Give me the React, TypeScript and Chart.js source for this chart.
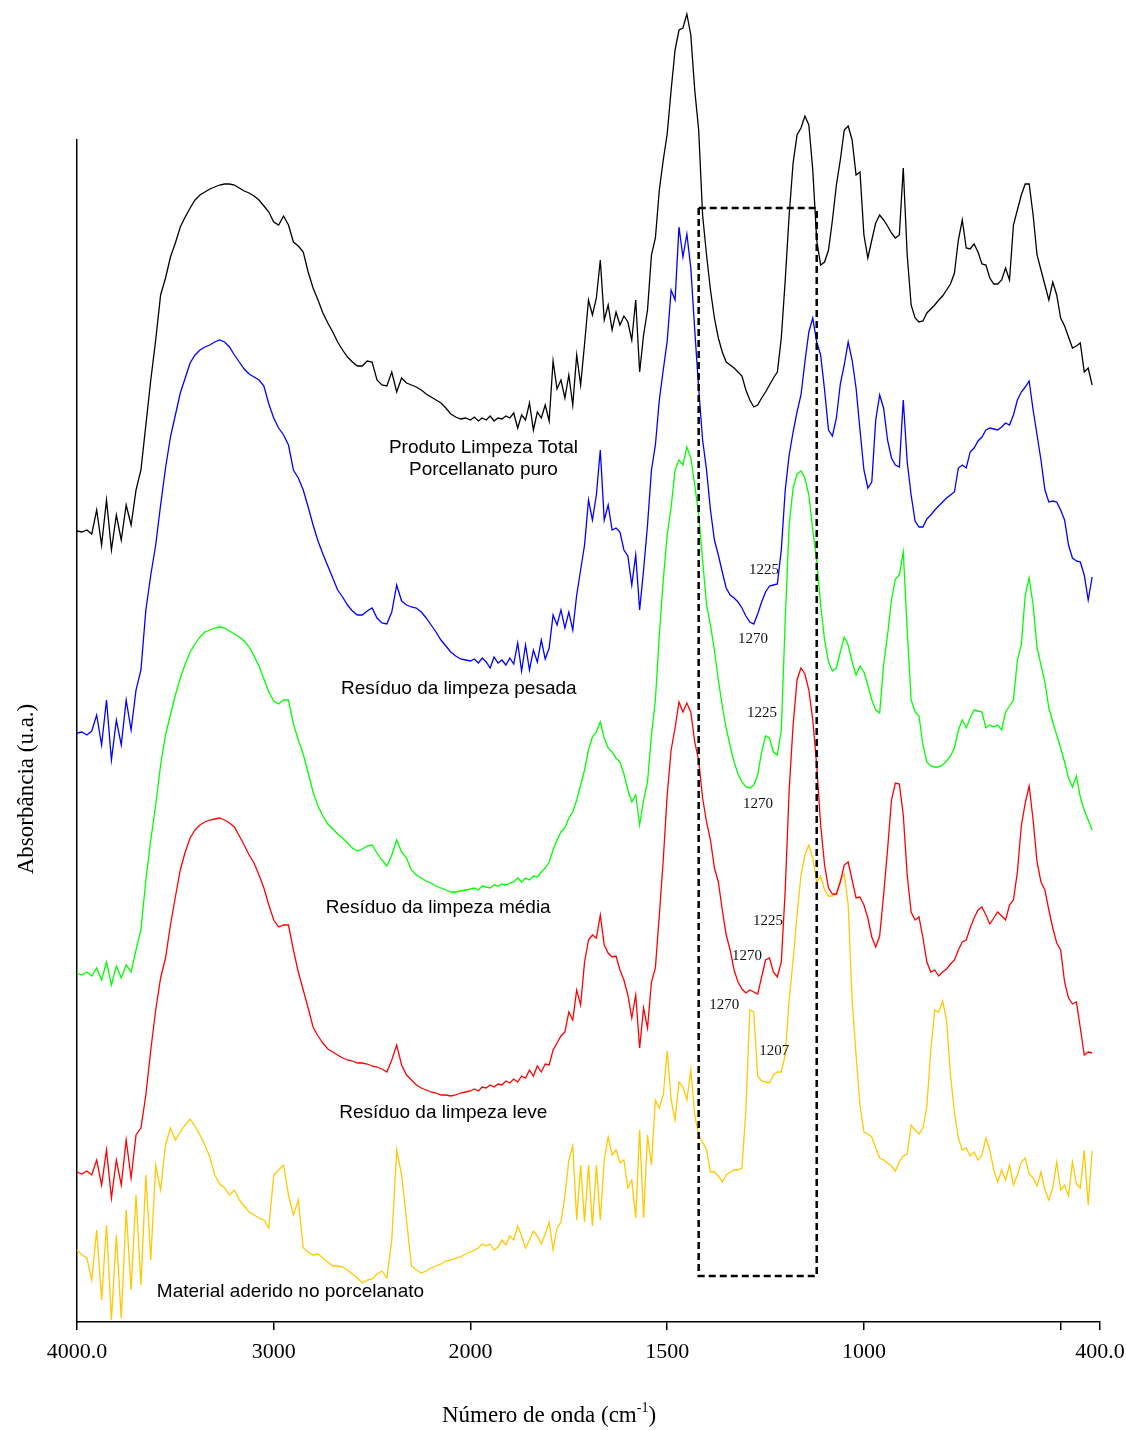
import React, { useEffect, useRef } from 'react';
import { Chart, LinearScale, registerables } from 'chart.js';

Chart.register(...registerables);

// ---------- axis helpers: the instrument scale is compressed 2x above 2000 cm-1 ----------
const splitT = (wn: number) => (wn > 2000 ? 2000 + (wn - 2000) / 2 : wn);
const splitInv = (t: number) => (t > 2000 ? 2000 + (t - 2000) * 2 : t);

class SplitWavenumberScale extends LinearScale {
  static id = 'splitWavenumber';
  static defaults = LinearScale.defaults;
  getPixelForValue(value: number) {
    const a = splitT(this.min as number);
    const b = splitT(this.max as number);
    return this.getPixelForDecimal((splitT(value) - a) / (b - a));
  }
  getValueForPixel(pixel: number) {
    const a = splitT(this.min as number);
    const b = splitT(this.max as number);
    return splitInv(a + this.getDecimalForPixel(pixel) * (b - a));
  }
}
Chart.register(SplitWavenumberScale as any);

// ---------- data ----------
const wavenumbersHigh = [
  4000, 3975, 3950, 3925, 3900, 3875, 3850, 3825, 3800, 3775, 3750, 3725, 3700, 3675, 3650, 3625, 3600, 3575, 3550, 3525,
  3500, 3475, 3450, 3425, 3400, 3375, 3350, 3325, 3300, 3275, 3250, 3225, 3200, 3175, 3150, 3125, 3100, 3075, 3050, 3025,
  3000, 2975, 2950, 2925, 2900, 2875, 2850, 2825, 2800, 2775, 2750, 2725, 2700, 2675, 2650, 2625, 2600, 2575, 2550, 2525,
  2500, 2475, 2450, 2425, 2400, 2375, 2350, 2325, 2300, 2275, 2250, 2225, 2200, 2175, 2150, 2125, 2100, 2075, 2050, 2025,
  2000,
];
const wavenumbersLow = [
  1990, 1980, 1970, 1960, 1950, 1940, 1930, 1920, 1910,
  1900, 1890, 1880, 1870, 1860, 1850, 1840, 1830, 1820, 1810,
  1800, 1790, 1780, 1770, 1760, 1750, 1740, 1730, 1720, 1710,
  1700, 1690, 1680, 1670, 1660, 1650, 1640, 1630, 1620, 1610,
  1600, 1590, 1580, 1570, 1560, 1550, 1540, 1530, 1520, 1510,
  1500, 1490, 1480, 1470, 1460, 1450, 1440, 1430, 1420, 1410,
  1400, 1390, 1380, 1370, 1360, 1350, 1340, 1330, 1320, 1310,
  1300, 1290, 1280, 1270, 1260, 1250, 1240, 1230, 1220, 1210,
  1200, 1190, 1180, 1170, 1160, 1150, 1140, 1130, 1120, 1110,
  1100, 1090, 1080, 1070, 1060, 1050, 1040, 1030, 1020, 1010,
  1000, 990, 980, 970, 960, 950, 940, 930, 920, 910,
  900, 890, 880, 870, 860, 850, 840, 830, 820, 810,
  800, 790, 780, 770, 760, 750, 740, 730, 720, 710,
  700, 690, 680, 670, 660, 650, 640, 630, 620, 610,
  600, 590, 580, 570, 560, 550, 540, 530, 520, 510,
  500, 490, 480, 470, 460, 450, 440, 430, 420,
];
const wavenumbers = [...wavenumbersHigh, ...wavenumbersLow];

// Produto Limpeza Total Porcellanato puro (black)
const produtoLimpeza = [
  791, 790, 792, 788, 812, 777, 822, 772, 807, 782, 817, 797, 832, 852, 897, 942, 982, 1027, 1044, 1065,
  1079, 1095, 1105, 1114, 1122, 1127, 1130, 1133, 1135, 1137, 1138, 1138, 1137, 1134, 1131, 1129, 1126, 1122, 1116, 1110,
  1100, 1097, 1106, 1097, 1080, 1076, 1070, 1050, 1034, 1022, 1009, 999, 990, 980, 972, 965, 960, 956, 956, 961,
  960, 942, 937, 936, 950, 930, 944, 939, 937, 935, 932, 928, 925, 922, 919, 914, 908, 905, 903, 904, 902,
  905, 901, 904, 902, 906, 901, 904, 903, 906,
  904, 909, 894, 907, 902, 919, 892, 910, 904, 917,
  901, 961, 933, 942, 924, 947, 917, 967, 937, 978,
  1022, 1007, 1024, 1062, 1002, 1017, 992, 1010, 997, 1006,
  1000, 982, 1022, 950, 987, 1012, 1067, 1084, 1132, 1162,
  1188, 1232, 1272, 1292, 1294, 1308, 1287, 1232, 1192, 1107,
  1067, 1032, 1004, 984, 970, 960, 957, 954, 950, 946,
  932, 922, 915, 917, 924, 930, 937, 944, 950, 984,
  1042, 1107, 1159, 1187, 1194, 1206, 1197, 1152, 1082, 1057,
  1060, 1072, 1102, 1137, 1162, 1192, 1196, 1182, 1147, 1150,
  1087, 1064, 1082, 1099, 1107, 1102, 1096, 1089, 1084, 1087,
  1154, 1067, 1017, 1004, 1000, 1001, 1009, 1013, 1017, 1022,
  1026, 1032, 1038, 1049, 1082, 1102, 1074, 1073, 1078, 1070,
  1058, 1057, 1044, 1038, 1038, 1042, 1054, 1042, 1097, 1112,
  1127, 1138, 1138, 1107, 1067, 1052, 1037, 1022, 1040, 1027,
  1004, 996, 985, 974, 976, 979, 950, 954, 937,
];

// Resíduo da limpeza pesada (blue)
const residuoPesada = [
  589, 590, 587, 591, 607, 577, 622, 562, 602, 577, 622, 592, 632, 652, 712, 747, 777, 817, 854, 885,
  907, 929, 944, 959, 967, 972, 975, 977, 980, 982, 980, 975, 967, 960, 953, 948, 945, 942, 936, 918,
  904, 894, 887, 877, 852, 844, 832, 815, 797, 781, 768, 756, 744, 732, 725, 717, 711, 707, 707, 711,
  714, 704, 699, 698, 710, 737, 721, 717, 715, 714, 710, 704, 697, 690, 682, 676, 670, 666, 663, 662, 661,
  663, 659, 664, 660, 654, 665, 659, 662, 657,
  664, 658, 679, 651, 677, 652, 672, 660, 682, 663,
  674, 707, 697, 712, 694, 710, 692, 727, 752, 777,
  822, 802, 827, 872, 802, 817, 792, 794, 790, 772,
  766, 737, 767, 712, 752, 797, 852, 877, 922, 952,
  981, 1032, 1022, 1095, 1065, 1088, 1054, 992, 934, 882,
  852, 812, 782, 767, 750, 734, 727, 724, 720, 714,
  706, 700, 698, 708, 720, 730, 736, 737, 738, 772,
  832, 867, 890, 910, 927, 960, 990, 1004, 980, 967,
  932, 892, 886, 904, 938, 957, 980, 962, 934, 892,
  852, 834, 840, 902, 927, 914, 882, 864, 857, 855,
  922, 860, 827, 801, 795, 795, 803, 807, 812, 816,
  820, 824, 827, 830, 854, 857, 854, 870, 874, 881,
  885, 892, 894, 893, 892, 895, 899, 897, 907, 922,
  930, 935, 941, 912, 887, 862, 832, 820, 821, 820,
  812, 802, 777, 764, 761, 760, 747, 722, 745,
];

// Resíduo da limpeza média (green)
const residuoMedia = [
  349, 347, 350, 346, 354, 342, 360, 337, 356, 344, 357, 350, 372, 392, 442, 482, 517, 557, 587, 607,
  627, 644, 658, 670, 678, 685, 690, 692, 694, 695, 694, 691, 688, 685, 681, 675, 666, 656, 643, 630,
  621, 618, 622, 622, 598, 582, 568, 549, 530, 516, 506, 498, 493, 488, 484, 479, 474, 471, 473, 476,
  477, 469, 462, 456, 467, 482, 470, 464, 452, 447, 444, 441, 439, 436, 434, 432, 430, 430, 431, 432, 433,
  434, 432, 436, 435, 434, 437, 436, 438, 437,
  439, 440, 444, 440, 444, 442, 446, 445, 450, 454,
  460, 472, 482, 490, 494, 504, 510, 522, 537, 552,
  572, 585, 590, 600, 584, 574, 570, 564, 560, 548,
  532, 520, 527, 497, 522, 540, 587, 622, 687, 742,
  787, 815, 852, 862, 857, 875, 864, 837, 807, 762,
  717, 697, 672, 642, 616, 594, 576, 560, 548, 540,
  535, 534, 537, 547, 570, 586, 584, 570, 567, 592,
  702, 797, 834, 848, 851, 844, 827, 792, 762, 717,
  682, 660, 651, 654, 670, 685, 677, 660, 647, 656,
  650, 637, 622, 612, 609, 657, 687, 722, 743, 747,
  770, 692, 622, 610, 606, 577, 560, 556, 555, 555,
  557, 561, 566, 574, 592, 602, 594, 604, 612, 611,
  610, 594, 597, 595, 597, 592, 610, 616, 622, 662,
  677, 727, 744, 717, 674, 657, 640, 614, 600, 587,
  574, 560, 544, 535, 546, 525, 512, 502, 492,
];

// Resíduo da limpeza leve (red)
const residuoLeve = [
  150, 148, 151, 147, 162, 137, 172, 124, 162, 137, 182, 144, 187, 194, 227, 272, 312, 344, 364, 397,
  425, 452, 470, 484, 492, 497, 500, 502, 503, 504, 502, 499, 495, 486, 477, 467, 459, 447, 434, 417,
  402, 395, 397, 397, 372, 350, 332, 314, 295, 286, 279, 273, 270, 267, 264, 262, 261, 259, 259, 258,
  256, 255, 253, 250, 262, 277, 257, 247, 242, 237, 234, 232, 230, 229, 227, 227, 226, 227, 229, 230, 231,
  233, 231, 235, 234, 237, 235, 238, 237, 241,
  239, 243, 240, 246, 244, 252, 246, 256, 250, 258,
  257, 272, 279, 286, 290, 310, 302, 332, 317, 360,
  382, 387, 384, 407, 377, 369, 365, 366, 352, 342,
  327, 304, 327, 274, 314, 294, 340, 354, 407, 462,
  527, 572, 594, 620, 610, 619, 610, 580, 562, 524,
  500, 482, 454, 440, 412, 387, 372, 352, 340, 333,
  329, 332, 330, 328, 345, 362, 364, 350, 345, 360,
  432, 532, 597, 642, 654, 648, 632, 602, 557, 497,
  457, 434, 428, 428, 440, 457, 460, 442, 424, 425,
  417, 404, 385, 375, 386, 427, 472, 522, 539, 538,
  507, 447, 410, 402, 405, 384, 360, 350, 352, 346,
  350, 353, 358, 362, 372, 380, 382, 394, 404, 412,
  415, 407, 398, 404, 410, 406, 402, 417, 422, 450,
  496, 519, 536, 502, 460, 440, 432, 412, 394, 379,
  372, 340, 324, 318, 320, 294, 267, 270, 269,
];

// Material aderido no porcelanato (yellow)
const materialAderido = [
  72, 67, 64, 42, 92, 22, 97, 2, 87, 4, 112, 32, 127, 37, 147, 62, 157, 132, 177, 194,
  182, 190, 197, 203, 196, 187, 177, 165, 147, 138, 134, 127, 132, 122, 116, 110, 107, 104, 102, 94,
  147, 152, 157, 127, 107, 122, 74, 70, 67, 68, 64, 60, 56, 56, 55, 52, 48, 44, 39, 42,
  43, 48, 51, 44, 82, 172, 147, 102, 56, 52, 49, 51, 54, 56, 58, 61, 62, 64, 65, 68, 70,
  72, 74, 78, 76, 78, 72, 75, 82, 77,
  86, 82, 96, 86, 74, 82, 91, 86, 78, 88,
  100, 72, 94, 100, 126, 162, 176, 102, 157, 100,
  157, 96, 157, 102, 162, 185, 167, 172, 159, 162,
  134, 142, 104, 192, 104, 187, 157, 222, 214, 227,
  271, 222, 202, 240, 235, 222, 252, 207, 187, 180,
  172, 150, 150, 146, 140, 147, 150, 152, 152, 154,
  212, 312, 310, 246, 241, 240, 239, 247, 250, 250,
  267, 322, 362, 407, 447, 467, 477, 464, 440, 446,
  432, 426, 426, 428, 442, 448, 417, 322, 267, 217,
  190, 188, 185, 174, 164, 162, 159, 156, 151, 160,
  166, 168, 197, 192, 188, 194, 216, 272, 312, 310,
  321, 302, 247, 210, 184, 172, 174, 166, 170, 162,
  167, 184, 172, 152, 140, 152, 142, 157, 137, 147,
  160, 164, 148, 144, 136, 150, 132, 122, 134, 160,
  132, 137, 126, 160, 138, 134, 172, 117, 171,
];

const seriesNames = [
  'Produto Limpeza Total Porcellanato puro',
  'Resíduo da limpeza pesada',
  'Resíduo da limpeza média',
  'Resíduo da limpeza leve',
  'Material aderido no porcelanato',
];
const seriesColors = ['#000000', '#0000FF', '#00FF00', '#FF0000', '#FFC800'];
const seriesValues = [produtoLimpeza, residuoPesada, residuoMedia, residuoLeve, materialAderido];

const tickValues = [4000, 3000, 2000, 1500, 1000, 500, 400];
const tickLabels = ['4000.0', '3000', '2000', '1500', '1000', '', '400.0'];

// in-plot text: text, wavenumber, absorbance
const spectrumLabelTexts = [
  'Produto Limpeza Total',
  'Porcellanato puro',
  'Resíduo da limpeza pesada',
  'Resíduo da limpeza média',
  'Resíduo da limpeza leve',
  'Material aderido no porcelanato',
];
const spectrumLabelWn = [1967, 1967, 2059, 2164, 2138, 2915];
const spectrumLabelAbs = [869, 847, 628, 409, 204, 25];

const peakTexts = ['1225', '1270', '1225', '1270', '1225', '1270', '1270', '1207'];
const peakWn = [1254, 1282, 1259, 1269, 1244, 1297, 1355, 1228];
const peakAbs = [752, 683, 609, 518, 401, 366, 317, 271];

const boxWavenumbers = [1420, 1120];
const boxAbsorbance = [46, 1114];

const overlayPlugin = {
  id: 'overlay',
  afterDraw(chart: any) {
    const { ctx, chartArea } = chart;
    const xs = chart.scales.x;
    const ys = chart.scales.y;
    ctx.save();

    // dashed box
    const bl = xs.getPixelForValue(boxWavenumbers[0]);
    const br = xs.getPixelForValue(boxWavenumbers[1]);
    const bt = ys.getPixelForValue(boxAbsorbance[1]);
    const bb = ys.getPixelForValue(boxAbsorbance[0]);
    ctx.strokeStyle = '#000';
    ctx.lineWidth = 2.5;
    ctx.setLineDash([7, 4]);
    ctx.strokeRect(bl, bt, br - bl, bb - bt);
    ctx.setLineDash([]);

    // spectrum labels
    ctx.fillStyle = '#000';
    ctx.font = '19px "Liberation Sans", Arial, sans-serif';
    ctx.textAlign = 'center';
    ctx.textBaseline = 'alphabetic';
    spectrumLabelTexts.forEach((t, i) => {
      ctx.fillText(t, xs.getPixelForValue(spectrumLabelWn[i]), ys.getPixelForValue(spectrumLabelAbs[i]));
    });

    // peak labels
    ctx.fillStyle = '#111';
    ctx.font = '15px "Liberation Serif", "Times New Roman", serif';
    ctx.textBaseline = 'middle';
    peakTexts.forEach((t, i) => {
      ctx.fillText(t, xs.getPixelForValue(peakWn[i]), ys.getPixelForValue(peakAbs[i]));
    });

    // x title with superscript
    ctx.fillStyle = '#000';
    ctx.textAlign = 'left';
    ctx.textBaseline = 'alphabetic';
    const mainFont = '23px "Liberation Serif", "Times New Roman", serif';
    const supFont = '14px "Liberation Serif", "Times New Roman", serif';
    ctx.font = mainFont;
    const p1 = 'Número de onda (cm';
    const w1 = ctx.measureText(p1).width;
    const w3 = ctx.measureText(')').width;
    ctx.font = supFont;
    const w2 = ctx.measureText('-1').width;
    const total = w1 + w2 + w3;
    const cx = chartArea.left + 472;
    const base = chartArea.bottom + 100;
    const x0 = cx - total / 2;
    ctx.font = mainFont;
    ctx.fillText(p1, x0, base);
    ctx.font = supFont;
    ctx.fillText('-1', x0 + w1, base - 10);
    ctx.font = mainFont;
    ctx.fillText(')', x0 + w1 + w2, base);

    // y title
    ctx.translate(chartArea.left - 44, chartArea.top + 649);
    ctx.rotate(-Math.PI / 2);
    ctx.textAlign = 'center';
    ctx.font = mainFont;
    ctx.fillText('Absorbância (u.a.)', 0, 0);

    ctx.restore();
  },
};

export default function App() {
  const canvasRef = useRef<HTMLCanvasElement | null>(null);

  useEffect(() => {
    if (!canvasRef.current) return;
    const datasets = seriesValues.map((vals, si) => ({
      label: seriesNames[si],
      data: wavenumbers.map((wn, i) => ({ x: wn, y: vals[i] })),
      borderColor: seriesColors[si],
      backgroundColor: seriesColors[si],
      borderWidth: 1.3,
      pointRadius: 0,
      tension: 0,
      fill: false,
      clip: false as any,
    }));

    const chart = new Chart(canvasRef.current, {
      type: 'line',
      data: { datasets },
      plugins: [overlayPlugin],
      options: {
        animation: false,
        responsive: true,
        maintainAspectRatio: false,
        layout: { padding: { left: 77, right: 26, top: 140, bottom: 0 } },
        plugins: { legend: { display: false }, tooltip: { enabled: false } },
        scales: {
          x: {
            type: 'splitWavenumber' as any,
            reverse: true,
            min: 400,
            max: 4000,
            afterBuildTicks: (scale: any) => {
              scale.ticks = tickValues.map((v) => ({ value: v }));
            },
            afterFit: (scale: any) => {
              scale.height = 108;
              scale.paddingLeft = 0;
              scale.paddingRight = 0;
            },
            ticks: {
              autoSkip: false,
              maxRotation: 0,
              minRotation: 0,
              padding: 9,
              color: '#000',
              font: { family: '"Liberation Serif", "Times New Roman", serif', size: 22 },
              callback: (v: any) => {
                const idx = tickValues.indexOf(Number(v));
                return idx >= 0 ? tickLabels[idx] : '';
              },
            },
            grid: {
              display: true,
              drawOnChartArea: false,
              drawTicks: true,
              tickLength: 8,
              color: '#000',
              lineWidth: 1.5,
            },
            border: { display: true, color: '#000', width: 1.5 },
          } as any,
          y: {
            type: 'linear',
            min: 0,
            max: 1182,
            ticks: { display: false },
            grid: { display: false },
            border: { display: true, color: '#000', width: 1.5 },
            afterFit: (scale: any) => {
              scale.width = 0;
              scale.paddingTop = 0;
              scale.paddingBottom = 0;
            },
          },
        },
      },
    });
    return () => chart.destroy();
  }, []);

  return (
    <div style={{ position: 'absolute', left: 0, top: 0, width: 1126, height: 1430, background: '#fff' }}>
      <canvas ref={canvasRef} />
    </div>
  );
}
